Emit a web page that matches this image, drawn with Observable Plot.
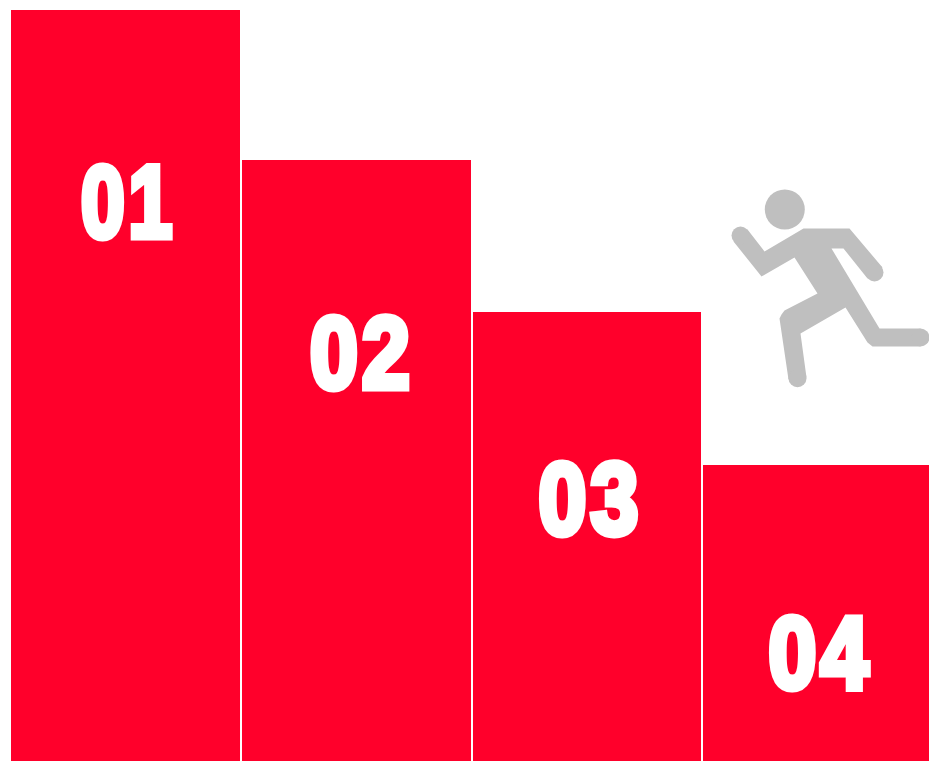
<!DOCTYPE html>
<html>
<head>
<meta charset="utf-8">
<style>html,body{margin:0;padding:0;background:#fff;overflow:hidden}svg{display:block}</style>
<script src="https://cdn.jsdelivr.net/npm/d3@7"></script>
<script src="https://cdn.jsdelivr.net/npm/@observablehq/plot@0.6"></script>
</head>
<body>
<div id="chart"></div>
<script>
const labels = ["01", "02", "03", "04"];
const barStart = [11, 242, 473, 703];
const barEnd = [240, 471, 701, 929];
const barValues = [751, 601, 449, 296];
const labelX = [128, 361.5, 590, 820];
const labelY = [557, 406.5, 260, 106.5];
const labelWidth = [95, 104, 104, 104];

// Runner outline, in chart units
const runnerX = [747,764,803,849,882,867,843,831,879,920,920,872,867,845,800,806,788,779,781,784,817,794,761,733];
const runnerY = [532,510,533,533,494,483,513,513,433,433,415,415,419,454,428,384,382,443,447,451,468,504,485,520];
const capX = [740, 874, 920, 797];
const capY = [526, 489, 424, 383.3];
const headX = [784.3];
const headY = [552];

const bars = labels.map((label, i) => ({label, x1: barStart[i], x2: barEnd[i], value: barValues[i], tx: labelX[i], ty: labelY[i]}));
const runner = runnerX.map((x, i) => ({x, y: runnerY[i]}));
const caps = capX.map((x, i) => ({x, y: capY[i]}));
const head = headX.map((x, i) => ({x, y: headY[i]}));

const chart = Plot.plot({
  width: 929,
  height: 761,
  margin: 0,
  x: {domain: [0, 929], range: [0, 929], axis: null},
  y: {domain: [0, 761], range: [761, 0], axis: null},
  marks: [
    Plot.rectY(bars, {x1: "x1", x2: "x2", y1: 0, y2: "value", fill: "#ff002b"}),
    Plot.text(bars, {
      x: "tx", y: "ty", text: "label",
      fill: "#fff", stroke: "#fff", strokeWidth: 7, strokeLinejoin: "miter",
      fontFamily: "'Liberation Sans',sans-serif",
      fontWeight: 700, fontSize: 102, textAnchor: "middle", lineAnchor: "middle"
    }),
    Plot.line(runner, {x: "x", y: "y", fill: "#bfbfbf", stroke: "none", curve: "linear-closed"}),
    Plot.dot(caps, {x: "x", y: "y", r: 9, fill: "#bfbfbf", stroke: "none"}),
    Plot.dot(head, {x: "x", y: "y", r: 20, fill: "#bfbfbf", stroke: "none"})
  ]
});
chart.style.background = "#fff";
d3.select(chart).selectAll("text").each(function () {
  const i = labels.indexOf(this.textContent);
  if (i >= 0) {
    this.style.letterSpacing = "5px";
    this.setAttribute("textLength", labelWidth[i]);
    this.setAttribute("lengthAdjust", "spacingAndGlyphs");
  }
});
document.getElementById("chart").append(chart);
</script>
</body>
</html>
